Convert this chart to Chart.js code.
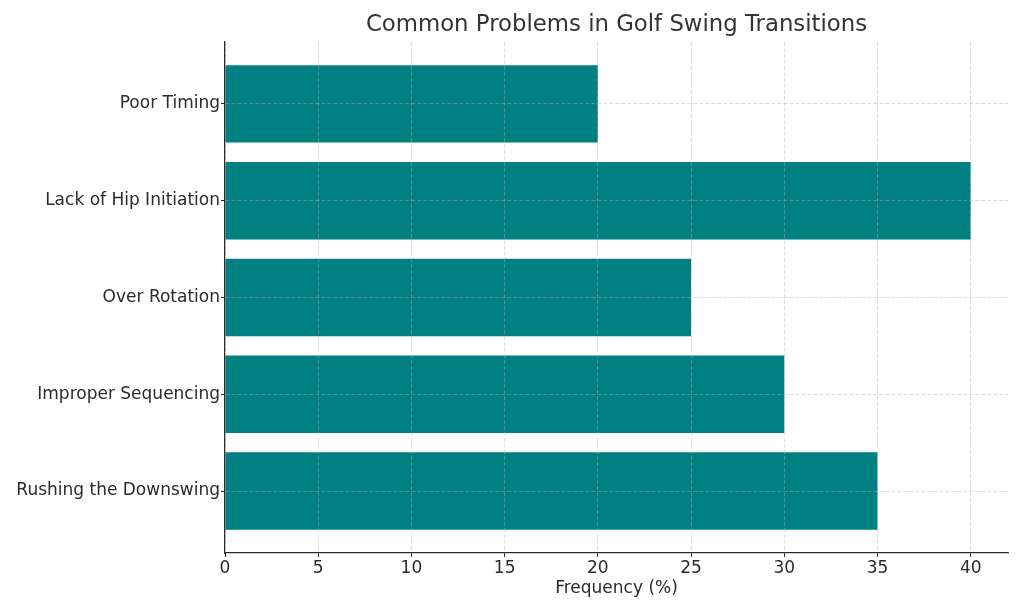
<!DOCTYPE html>
<html>
<head>
<meta charset="utf-8">
<script src="https://cdn.jsdelivr.net/npm/chart.js@4"></script>
<style>
  html, body { margin: 0; padding: 0; background: #fff; }
  #wrap { width: 1024px; height: 614px; }
</style>
</head>
<body>
<div id="wrap"><canvas id="myChart"></canvas></div>
<script>
// categories listed top to bottom
const problems = ['Poor Timing', 'Lack of Hip Initiation', 'Over Rotation', 'Improper Sequencing', 'Rushing the Downswing'];
const frequency = [20, 40, 25, 30, 35];
const xTicks = [0, 5, 10, 15, 20, 25, 30, 35, 40];

const font = 'DejaVu Sans';
const textColor = '#2b2b2b';
const gridColor = 'rgba(176, 176, 176, 0.55)';

const ctx = document.getElementById('myChart').getContext('2d');
new Chart(ctx, {
  type: 'bar',
  data: {
    datasets: [{
      data: problems.map((p, i) => ({ x: frequency[i], y: i })),
      backgroundColor: '#008080',
      borderWidth: 0,
      categoryPercentage: 1,
      barPercentage: 0.8
    }]
  },
  options: {
    indexAxis: 'y',
    responsive: true,
    maintainAspectRatio: false,
    animation: false,
    layout: { padding: { right: 16 } },
    plugins: {
      legend: { display: false },
      tooltip: { enabled: false },
      title: {
        display: true,
        fullSize: false,
        text: 'Common Problems in Golf Swing Transitions',
        color: '#333',
        font: { family: font, size: 22.8, weight: 'normal' },
        padding: { top: 11, bottom: 3.6 }
      }
    },
    scales: {
      x: {
        type: 'linear',
        min: 0,
        max: 42,
        afterBuildTicks: s => { s.ticks = xTicks.map(v => ({ value: v })); },
        afterFit: s => { s.height = 61; },
        ticks: { color: textColor, font: { family: font, size: 17 }, padding: 1, maxRotation: 0 },
        grid: { z: 1, color: gridColor, lineWidth: 0.8, tickLength: 4, tickColor: textColor, tickWidth: 1 },
        border: { z: 1, color: textColor, width: 1.25, dash: [4, 2] },
        title: {
          display: true,
          text: 'Frequency (%)',
          color: textColor,
          font: { family: font, size: 17 },
          padding: { top: 0, bottom: 15 }
        }
      },
      y: {
        type: 'linear',
        reverse: true,
        offset: false,
        min: -0.64,
        max: 4.64,
        afterBuildTicks: s => { s.ticks = problems.map((p, i) => ({ value: i })); },
        afterFit: s => { s.width = 225; },
        ticks: { color: textColor, font: { family: font, size: 17 }, padding: 1, callback: v => problems[v] },
        grid: { z: 1, offset: false, color: gridColor, lineWidth: 0.8, tickLength: 4, tickColor: textColor, tickWidth: 1 },
        border: { z: 1, color: textColor, width: 1.25, dash: [4, 2] }
      }
    }
  }
});
</script>
</body>
</html>
